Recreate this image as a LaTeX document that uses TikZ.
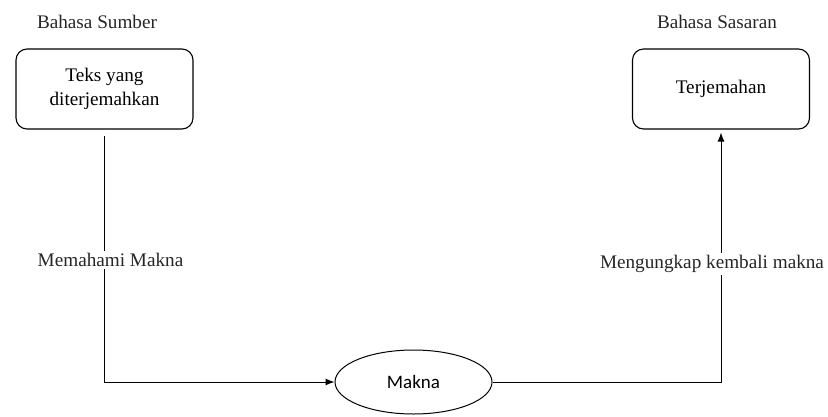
\documentclass[tikz,border=0pt]{standalone}
\usepackage{fontspec}
\setmainfont{Liberation Serif}
\newfontfamily\calib{Carlito}
\usetikzlibrary{shapes.geometric,arrows.meta}
\tikzset{
  box/.style={draw, rounded corners=11pt, line width=1.1pt, minimum width=177pt, minimum height=80pt, align=center, font=\fontsize{19.2}{24}\selectfont},
  oval/.style={draw, ellipse, line width=1pt, minimum width=157pt, minimum height=64pt, font=\calib\fontsize{19}{22}\selectfont},
  lbl/.style={font=\fontsize{19.2}{22}\selectfont, text=black!85},
  conn/.style={line width=1pt, -{Latex[length=9pt,width=7pt]}},
}
\begin{document}
\begin{tikzpicture}[x=1pt,y=-1pt]
\useasboundingbox (0,0) rectangle (828,416);
\node[lbl] (bs) at (97,22) {Bahasa Sumber};
\node[lbl] (bt) at (717,22) {Bahasa Sasaran};
\node[box] (src) at (104.5,89) {Teks yang\\diterjemahkan};
\node[box] (tgt) at (721,89) {Terjemahan};
\node[oval] (mk) at (413.5,382) {Makna};
\draw[conn, shorten <=6pt] (src.south) |- (mk.west)
  node[pos=0.25, lbl, fill=white, inner sep=2pt, xshift=6pt, yshift=-4pt] (l1) {Memahami Makna};
\draw[conn, shorten >=3pt] (mk.east) -| (tgt.south)
  node[pos=0.75, lbl, fill=white, inner sep=2pt, xshift=-9pt, yshift=-8pt] (l2) {Mengungkap kembali makna};
\end{tikzpicture}
\end{document}
